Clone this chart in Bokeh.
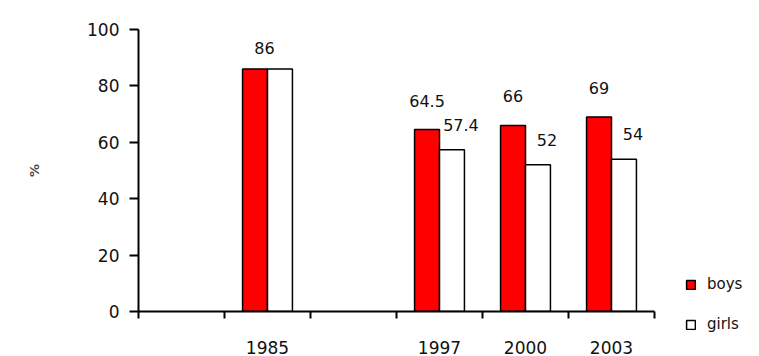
from bokeh.plotting import figure
from bokeh.models import ColumnDataSource, Range1d, FixedTicker, LabelSet, Legend
from bokeh.core.properties import value
from bokeh.embed import file_html
from bokeh.resources import INLINE

# Category slots along the x axis (empty slots leave gaps between survey years)
slots = ["", "1985", "", "1997", "2000", "2003"]
years = ["1985", "1997", "2000", "2003"]
boys = [86, 64.5, 66, 69]
girls = [86, 57.4, 52, 54]
y_ticks = [0, 20, 40, 60, 80, 100]

FONT = "DejaVu Sans"
BAR_W = 0.29
HALF = 0.145

centers = [slots.index(yr) + 0.5 for yr in years]

bar_src = ColumnDataSource(dict(
    xb=[c - HALF for c in centers],
    xg=[c + HALF for c in centers],
    boys=boys,
    girls=girls,
))

p = figure(frame_width=516, frame_height=282, output_backend="svg", toolbar_location=None,
           x_range=Range1d(0, len(slots)), y_range=Range1d(0, 100),
           min_border_left=138, min_border_right=105,
           min_border_top=29, min_border_bottom=45)
p.outline_line_color = None
p.xgrid.visible = False
p.ygrid.visible = False
p.background_fill_color = "white"
p.border_fill_color = "white"

rb = p.vbar(x="xb", top="boys", width=BAR_W, source=bar_src,
            fill_color="#ff0000", line_color="black", line_width=1.5)
rg = p.vbar(x="xg", top="girls", width=BAR_W, source=bar_src,
            fill_color="white", line_color="black", line_width=1.5)

# Value labels: a single centred label when both groups share the same value
lx, ly, lt, kind = [], [], [], []
for c, b, g in zip(centers, boys, girls):
    if b == g:
        lx.append(c); ly.append(b); lt.append(f"{b:g}"); kind.append("pair")
    else:
        lx.append(c - HALF); ly.append(b); lt.append(f"{b:g}"); kind.append("boys")
        lx.append(c + HALF); ly.append(g); lt.append(f"{g:g}"); kind.append("girls")

x_off = {"pair": -3, "boys": 0, "girls": 9}
y_off = {"pair": 21, "boys": 29, "girls": 25}
lbl_src = ColumnDataSource(dict(
    x=lx, y=ly, text=lt,
    xo=[x_off[k] for k in kind],
    yo=[y_off[k] for k in kind],
))
labels = LabelSet(x="x", y="y", text="text", x_offset="xo", y_offset="yo",
                  source=lbl_src, text_align="center", text_baseline="middle",
                  text_font=value(FONT), text_font_size=value("16px"),
                  text_color="#111111")
p.add_layout(labels)

# y axis
p.yaxis.ticker = FixedTicker(ticks=y_ticks)
p.yaxis.axis_label = "%"
p.yaxis.axis_label_text_font = FONT
p.yaxis.axis_label_text_font_size = "13px"
p.yaxis.axis_label_text_font_style = "bold"
p.yaxis.axis_label_standoff = 42
p.yaxis.major_label_text_font = FONT
p.yaxis.major_label_text_font_size = "17px"
p.yaxis.major_label_text_color = "#111111"
p.yaxis.major_label_standoff = 10
p.yaxis.major_tick_out = 9
p.yaxis.major_tick_in = 0
p.yaxis.minor_tick_out = 0
p.yaxis.minor_tick_in = 0
p.yaxis.axis_line_width = 2
p.yaxis.major_tick_line_width = 2

# x axis: labels at slot centres, tick marks on slot boundaries
p.xaxis.ticker = FixedTicker(ticks=centers, minor_ticks=list(range(len(slots) + 1)))
p.xaxis.major_label_overrides = {c: yr for c, yr in zip(centers, years)}
p.xaxis.major_tick_out = 0
p.xaxis.major_tick_in = 0
p.xaxis.minor_tick_out = 7
p.xaxis.minor_tick_in = 0
p.xaxis.minor_tick_line_width = 2
p.xaxis.axis_line_width = 2
p.xaxis.major_label_standoff = 22
p.xaxis.major_label_text_font = FONT
p.xaxis.major_label_text_font_size = "17px"
p.xaxis.major_label_text_color = "#111111"

legend = Legend(items=[("boys", [rb]), ("girls", [rg])], location=(31, -22),
                orientation="vertical", glyph_width=11, glyph_height=11,
                label_height=14, spacing=22, label_standoff=11, padding=0,
                margin=0, border_line_color=None, background_fill_alpha=0,
                label_text_font=FONT, label_text_font_size="15px",
                label_text_color="#111111")
p.add_layout(legend, "right")

open("out.html", "w").write(file_html(p, INLINE))
